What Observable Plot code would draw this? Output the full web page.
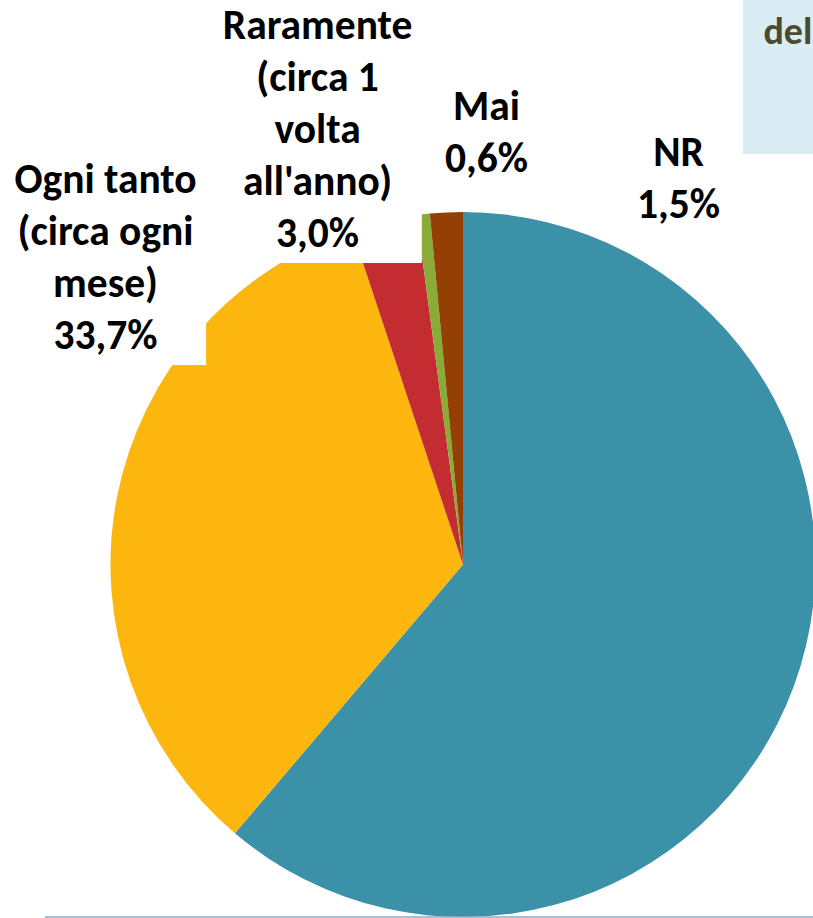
<!DOCTYPE html>
<html><head><meta charset="utf-8">
<script src="https://cdn.jsdelivr.net/npm/d3@7"></script>
<script src="https://cdn.jsdelivr.net/npm/@observablehq/plot@0.6"></script>
<style>
html,body{margin:0;padding:0;background:#fff;overflow:hidden;}
#chart svg{display:block;overflow:hidden;}
</style></head><body><div id="chart"></div>
<script>
// ---- data ----
const categories = ["Spesso", "Ogni tanto (circa ogni mese)", "Raramente (circa 1 volta all'anno)", "Mai", "NR"];
const labelLines = ["", "Ogni tanto\n(circa ogni\nmese)", "Raramente\n(circa 1\nvolta\nall'anno)", "Mai", "NR"];
const values = [61.2, 33.7, 3.0, 0.6, 1.5];
const valueLabels = ["61,2%", "33,7%", "3,0%", "0,6%", "1,5%"];
const showLabel = [false, true, true, true, true];
const titleFragment = "del";

// ---- styling / layout (unit coords: pie radius = 1, centre = 0,0) ----
const colors = ["#3A91A8", "#FDB60D", "#C32D32", "#88AC37", "#943F04"];
const labelX = [0, -1.0156, -0.414, 0.065, 0.610];
const labelY = [0, 0.614, 0.9035, 1.1135, 0.983];
const FONT = "Carlito, Calibri, Lato, sans-serif";
const FS = 41.5;
const LH = 52 / FS;

const rows = categories.map((c, i) => ({
  category: c, value: values[i], color: colors[i],
  text: labelLines[i] + "\n" + valueLabels[i], show: showLabel[i],
  lx: labelX[i], ly: labelY[i]
}));
const arcs = d3.pie().sort(null).value(d => d.value)(rows);

function pieMark(index, scales) {
  const cx = scales.x(0), cy = scales.y(0), r = scales.x(1) - scales.x(0);
  const arc = d3.arc().innerRadius(0).outerRadius(r);
  const g = d3.create("svg:g").attr("aria-label", "pie").attr("transform", `translate(${cx},${cy})`);
  g.selectAll("path").data(arcs).join("path")
    .attr("d", arc).attr("fill", d => d.data.color);
  return g.node();
}

const titleBox = [{x1: 0.794, x2: 1.3, y1: 1.1645, y2: 1.7, tx: 0.851, ty: 1.4794}];
const baseRule = [{y: -0.9986, x1: -1.186, x2: 1.3}];

const svg = Plot.plot({
  width: 813, height: 918,
  margin: 0,
  x: {type: "linear", domain: [-1, 1], range: [110.5, 815.5], axis: null},
  y: {type: "linear", domain: [-1, 1], range: [917, 212], axis: null},
  style: {background: "#fff", overflow: "hidden"},
  marks: [
    pieMark,
    Plot.text(rows.filter(d => d.show), {
      x: "lx", y: "ly", text: "text",
      lineAnchor: "bottom", lineHeight: LH, textAnchor: "middle",
      fontFamily: FONT, fontWeight: "bold", fontSize: FS, fill: "#000"
    }),
    Plot.rect(titleBox, {x1: "x1", x2: "x2", y1: "y1", y2: "y2", fill: "#DAEDF4"}),
    Plot.text(titleBox, {x: "tx", y: "ty", text: () => titleFragment, textAnchor: "start",
      lineAnchor: "bottom", fontFamily: FONT, fontWeight: "bold", fontSize: 38, fill: "#4E4A30"}),
    Plot.ruleY(baseRule, {y: "y", x1: "x1", x2: "x2", stroke: "#90A9C6", strokeWidth: 1.5})
  ]
});
document.getElementById("chart").appendChild(svg);

// white label backgrounds (as in the original, they mask the pie)
const labelG = svg.querySelectorAll('g[aria-label="text"]')[0];
if (labelG) {
  const bg = document.createElementNS("http://www.w3.org/2000/svg", "g");
  labelG.parentNode.insertBefore(bg, labelG);
  labelG.querySelectorAll("text").forEach(t => {
    const b = t.getBBox();
    const r = document.createElementNS("http://www.w3.org/2000/svg", "rect");
    const padX = 10, bottom = 17;
    r.setAttribute("x", b.x - padX);
    r.setAttribute("y", b.y - 6);
    r.setAttribute("width", b.width + 2 * padX);
    r.setAttribute("height", bottom - (b.y - 6));
    r.setAttribute("fill", "#fff");
    const tr = t.getAttribute("transform");
    if (tr) r.setAttribute("transform", tr);
    bg.appendChild(r);
  });
}
</script>
</body></html>
